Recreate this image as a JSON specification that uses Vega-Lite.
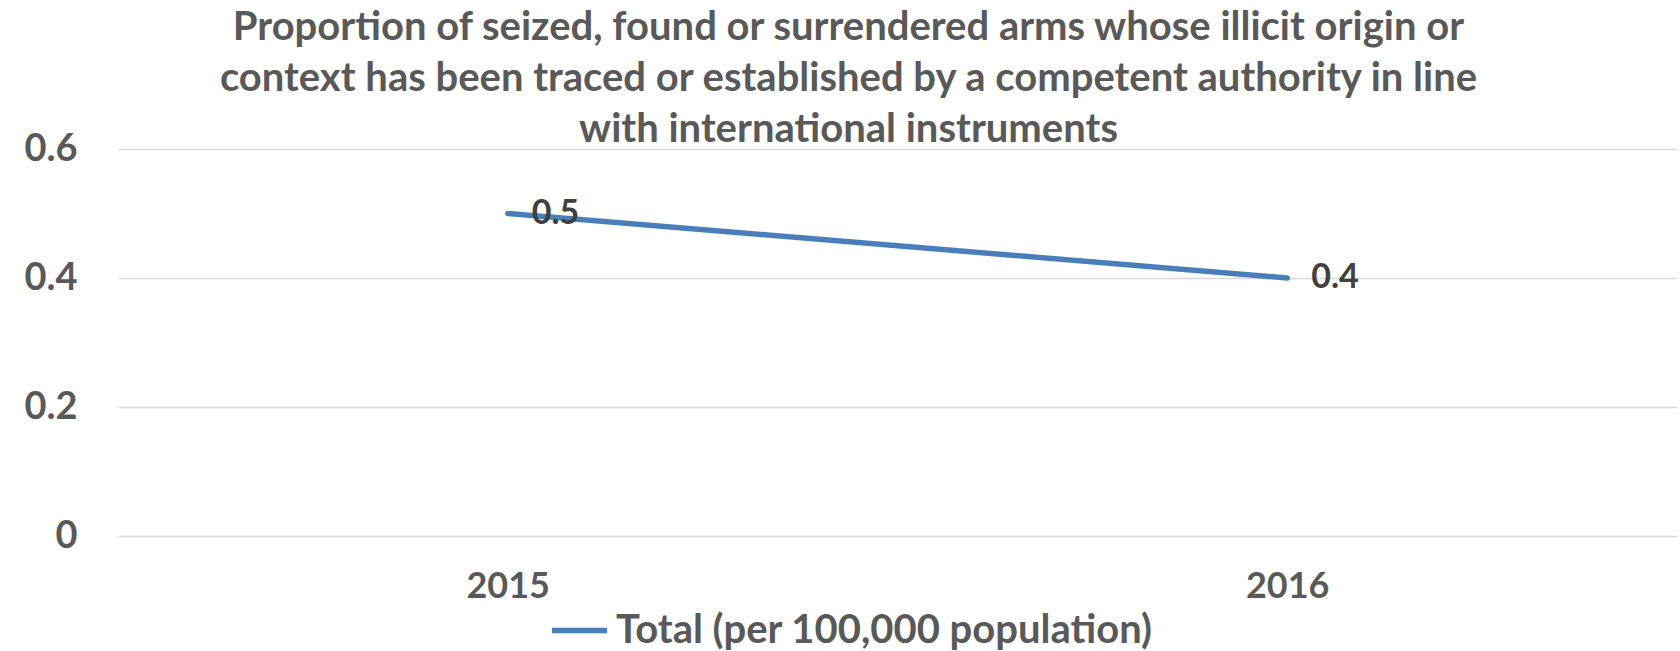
{
  "$schema": "https://vega.github.io/schema/vega-lite/v6.json",
  "width": 1559,
  "height": 387,
  "autosize": "none",
  "padding": {"left": 118, "top": 149, "right": 3, "bottom": 115},
  "background": "white",
  "config": {
    "view": {"stroke": null},
    "font": "Lato"
  },
  "title": {
    "text": [
      "Proportion of seized, found or surrendered arms whose illicit origin or",
      "context has been traced or established by a competent authority in line",
      "with international instruments"
    ],
    "font": "Lato",
    "fontSize": 40,
    "fontWeight": "bold",
    "color": "#595959",
    "lineHeight": 51,
    "baseline": "alphabetic",
    "anchor": "middle",
    "dx": -49,
    "offset": -52
  },
  "data": {
    "values": [
      {"year": "2015", "value": 0.5, "series": "Total (per 100,000 population)"},
      {"year": "2016", "value": 0.4, "series": "Total (per 100,000 population)"}
    ]
  },
  "encoding": {
    "x": {
      "field": "year",
      "type": "ordinal",
      "scale": {"type": "point", "padding": 0.5},
      "axis": {
        "title": null,
        "domain": false,
        "ticks": false,
        "labelAngle": 0,
        "labelFont": "Lato",
        "labelFontSize": 36,
        "labelFontWeight": "bold",
        "labelColor": "#595959",
        "labelPadding": 33
      }
    },
    "y": {
      "field": "value",
      "type": "quantitative",
      "scale": {"domain": [0, 0.6], "nice": false},
      "axis": {
        "title": null,
        "domain": false,
        "ticks": false,
        "values": [0, 0.2, 0.4, 0.6],
        "format": "~g",
        "grid": true,
        "gridColor": "#d9d9d9",
        "gridWidth": 1.5,
        "labelFont": "Lato",
        "labelFontSize": 38,
        "labelFontWeight": "bold",
        "labelColor": "#595959",
        "labelPadding": 41
      }
    }
  },
  "layer": [
    {
      "mark": {"type": "line", "strokeWidth": 5.5, "strokeCap": "round"},
      "encoding": {
        "color": {
          "field": "series",
          "type": "nominal",
          "scale": {"range": ["#4a7ebb"]},
          "legend": {
            "title": null,
            "orient": "none",
            "legendX": 431,
            "legendY": 451,
            "padding": 0,
            "symbolType": "stroke",
            "symbolSize": 3025,
            "symbolStrokeWidth": 5.5,
            "labelFont": "Lato",
            "labelFontSize": 40,
            "labelFontWeight": "bold",
            "labelColor": "#595959",
            "labelOffset": 6,
            "labelLimit": 1000
          }
        }
      }
    },
    {
      "mark": {
        "type": "text",
        "align": "left",
        "baseline": "middle",
        "dx": 24,
        "font": "Lato",
        "fontSize": 34,
        "fontWeight": "bold",
        "color": "#404040"
      },
      "encoding": {
        "text": {"field": "value", "type": "quantitative", "format": "~g"}
      }
    }
  ]
}
